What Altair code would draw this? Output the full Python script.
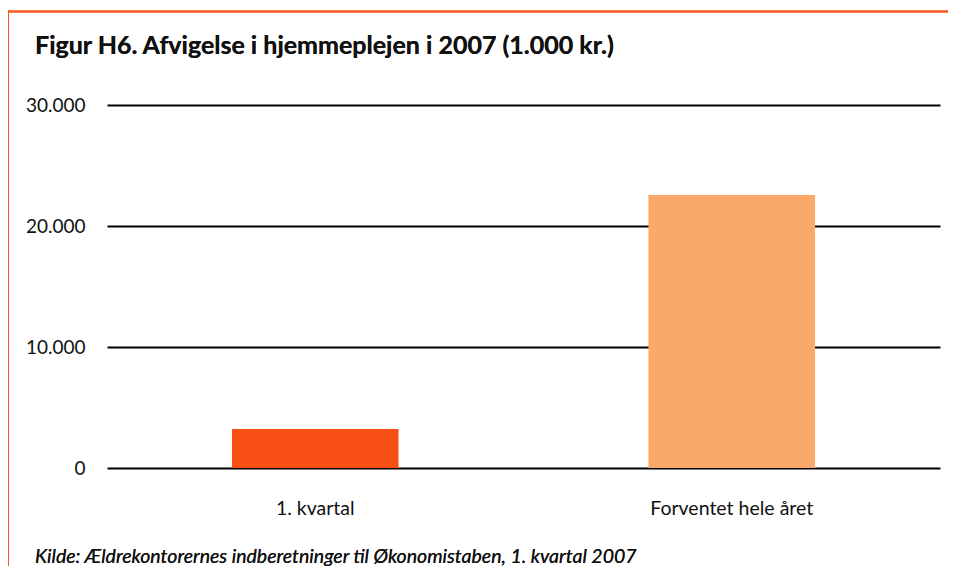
import altair as alt
import pandas as pd

categories = ["1. kvartal", "Forventet hele året"]
values = [3220, 22560]
colors = ["#F84F14", "#FBA96A"]
y_ticks = [0, 10000, 20000, 30000]

title_text = "Figur H6. Afvigelse i hjemmeplejen i 2007 (1.000 kr.)"
source_text = "Kilde: Ældrekontorernes indberetninger til Økonomistaben, 1. kvartal 2007"

df = pd.DataFrame({"cat": categories, "val": values, "color": colors})

FONT = "Lato"
W, H = 833, 363

bars = alt.Chart(df).mark_bar().encode(
    x=alt.X("cat:N", sort=categories,
            scale=alt.Scale(paddingInner=0.6, paddingOuter=0.3),
            axis=alt.Axis(title=None, labelAngle=0, labelFontSize=19.5, labelFont=FONT,
                          labelColor="#111111", labelPadding=31, ticks=False, domain=False,
                          grid=False)),
    y=alt.Y("val:Q", scale=alt.Scale(domain=[0, 30000]),
            axis=alt.Axis(title=None, values=y_ticks, format=",.0f", labelFontSize=19,
                          labelFont=FONT, labelColor="#111111", labelPadding=22,
                          ticks=False, domain=False, grid=True, gridColor="black",
                          gridWidth=2, gridOpacity=1)),
    color=alt.Color("color:N", scale=None, legend=None),
)

title = alt.Chart(df).mark_text(
    text=title_text, font=FONT, fontSize=25, fontWeight="bold", align="left",
    baseline="middle", color="#111111"
).encode(x=alt.value(-72), y=alt.value(-59))

source = alt.Chart(df).mark_text(
    text=source_text, font=FONT, fontSize=19.5, fontStyle="italic", align="left",
    baseline="middle", color="#111111"
).encode(x=alt.value(-72), y=alt.value(452))

top_border = alt.Chart(df).mark_rule(color="#F9561B", strokeWidth=2).encode(
    x=alt.value(-100), x2=alt.value(845), y=alt.value(-93.5))
left_border = alt.Chart(df).mark_rule(color="#F9561B", strokeWidth=2).encode(
    x=alt.value(-99), y=alt.value(-94.5), y2=alt.value(470))

chart = alt.layer(bars, title, source, top_border, left_border).properties(
    width=W, height=H,
    autosize=alt.AutoSizeParams(type="none"),
    padding={"left": 99, "top": 97, "right": 8, "bottom": 98},
).configure(
    locale={"number": {"decimal": ",", "thousands": ".", "grouping": [3], "currency": ["", " kr."]}}
).configure_view(strokeWidth=0, strokeOpacity=0)

chart.save("out.html", embed_options={"renderer": "svg", "actions": False})
